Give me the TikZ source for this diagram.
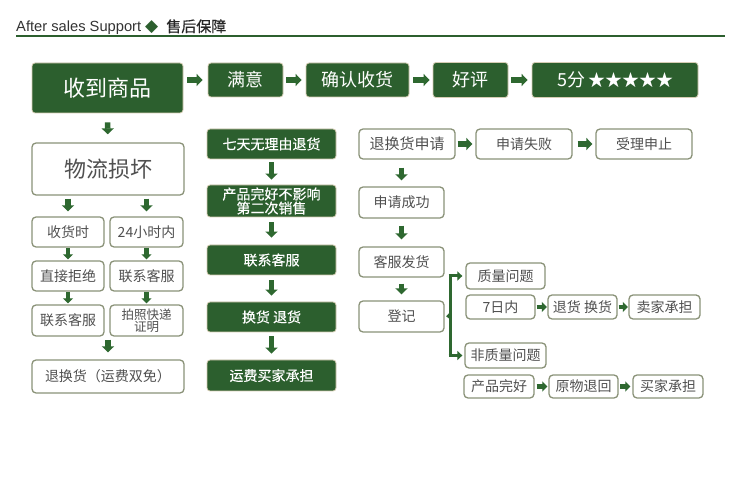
\documentclass[tikz,border=0pt]{standalone}
\usepackage{fontspec}
\setmainfont{Noto Sans CJK SC}
\newfontfamily\medf[FakeBold=0.4]{Noto Sans CJK SC}
\newfontfamily\latinf{Liberation Sans}
\newfontfamily\symf{DejaVu Sans}
\usetikzlibrary{arrows.meta}
\definecolor{dg}{HTML}{2C5F2E}
\definecolor{ag}{HTML}{2E6830}
\definecolor{gb}{HTML}{8A9278}
\definecolor{tg}{HTML}{505050}
\definecolor{lb}{HTML}{D6CDB4}
\tikzset{
  dbox/.style={fill=dg, draw=lb, line width=0.8pt, rounded corners=3pt, text=white, inner sep=0pt, align=center},
  obox/.style={fill=white, draw=gb, line width=1.3pt, rounded corners=4pt, text=tg, inner sep=0pt, align=center},
  arr/.style={draw=ag, line width=5.5pt, -{Triangle[width=12pt,length=6pt]}},
  sarr/.style={draw=ag, line width=4.5pt, -{Triangle[width=10pt,length=5pt]}},
  fs/.style={font=\fontsize{#1}{#1}\selectfont},
}
\begin{document}
\begin{tikzpicture}[x=1pt,y=-1pt]
\useasboundingbox (0,0) rectangle (750,494);
\fill[white] (0,0) rectangle (750,494);
% header
\node[anchor=base west, inner sep=0pt, text=black!80, font=\fontsize{14.7}{14.7}\selectfont] (hdr) at (16,32)
  {{\latinf After sales Support}\hspace{4pt}{\symf\fontsize{17}{17}\selectfont\textcolor{dg}{◆}}\hspace{8pt}\textcolor{black!85}{\medf\fontsize{15}{15}\selectfont 售后保障}};
\coordinate (hl) at (16,36);
\coordinate (hr) at (725,36);
\draw[dg, line width=1.5pt] (hl) -- (hr);
% top row
\node[dbox, fs=22, minimum width=151, minimum height=50] (n1) at (107.5,88) {收到商品};
\node[dbox, fs=18, minimum width=75, minimum height=34] (n2) at (245.5,80) {满意};
\node[dbox, fs=18, minimum width=103, minimum height=34] (n3) at (357.5,80) {确认收货};
\node[dbox, fs=18, minimum width=75, minimum height=35] (n4) at (470.5,80) {好评};
\node[dbox, fs=18, minimum width=166, minimum height=35] (n5) at (615,80) {5分\,{\fontsize{17}{17}\selectfont ★★★★★}};
\draw[arr, shorten <=4pt, shorten >=5pt] (n1.east |- n2.west) -- (n2.west);
\draw[arr, shorten <=3pt, shorten >=4pt] (n2.east) -- (n3.west);
\draw[arr, shorten <=4pt, shorten >=3pt] (n3.east) -- (n4.west);
\draw[arr, shorten <=3pt, shorten >=4pt] (n4.east) -- (n5.west);
% left column
\node[obox, fs=22, minimum width=152, minimum height=52] (a) at (108,169) {物流损坏};
\node[obox, fs=14, minimum width=72, minimum height=30] (b1) at (68,232) {收货时};
\node[obox, fs=14, minimum width=73, minimum height=30] (b2) at (146.5,232) {24小时内};
\node[obox, fs=14, minimum width=72, minimum height=30] (c1) at (68,276) {直接拒绝};
\node[obox, fs=14, minimum width=73, minimum height=30] (c2) at (146.5,276) {联系客服};
\node[obox, fs=14, minimum width=72, minimum height=31] (d1) at (68,320.5) {联系客服};
\node[obox, font=\fontsize{12.5}{12}\selectfont, minimum width=73, minimum height=31] (d2) at (146.5,320.5) {拍照快递\\证明};
\node[obox, fs=14, minimum width=152, minimum height=33] (e) at (108,376.5) {退换货（运费双免）};
\draw[arr, shorten <=9pt, shorten >=8pt] (n1.south) -- (a.north);
\draw[arr, shorten <=3pt, shorten >=5pt] (a.south -| b1.north) -- (b1.north);
\draw[arr, shorten <=3pt, shorten >=5pt] (a.south -| b2.north) -- (b2.north);
\draw[sarr, shorten <=0.5pt, shorten >=1pt] (b1.south) -- (c1.north);
\draw[sarr, shorten <=0.5pt, shorten >=1pt] (b2.south) -- (c2.north);
\draw[sarr, shorten <=0.5pt, shorten >=1pt] (c1.south) -- (d1.north);
\draw[sarr, shorten <=0.5pt, shorten >=1pt] (c2.south) -- (d2.north);
\draw[arr, shorten <=3pt, shorten >=7pt] (e.north |- d1.south) -- (e.north);
% middle column
\node[dbox, fs=14, minimum width=129, minimum height=30] (m1) at (271.5,144) {\medf 七天无理由退货};
\node[dbox, font=\fontsize{14}{14}\selectfont, minimum width=129, minimum height=32] (m2) at (271.5,201) {\medf 产品完好不影响\\\medf 第二次销售};
\node[dbox, fs=14, minimum width=129, minimum height=30] (m3) at (271.5,260) {\medf 联系客服};
\node[dbox, fs=14, minimum width=129, minimum height=30] (m4) at (271.5,317) {\medf 换货 退货};
\node[dbox, fs=14, minimum width=129, minimum height=31] (m5) at (271.5,375.5) {\medf 运费买家承担};
\draw[arr, shorten <=3pt, shorten >=5pt] (m1.south) -- (m2.north);
\draw[arr, shorten <=5pt, shorten >=7pt] (m2.south) -- (m3.north);
\draw[arr, shorten <=5pt, shorten >=6pt] (m3.south) -- (m4.north);
\draw[arr, shorten <=4pt, shorten >=6pt] (m4.south) -- (m5.north);
% right part
\node[obox, fs=15, minimum width=96, minimum height=30] (r1) at (407,144) {退换货申请};
\node[obox, fs=14, minimum width=96, minimum height=30] (r2) at (524,144) {申请失败};
\node[obox, fs=14, minimum width=96, minimum height=30] (r3) at (644,144) {受理申止};
\node[obox, fs=14, minimum width=85, minimum height=31] (r4) at (401.5,202.5) {申请成功};
\node[obox, fs=14, minimum width=85, minimum height=30] (r5) at (401.5,262) {客服发货};
\node[obox, fs=14, minimum width=85, minimum height=31] (r6) at (401.5,316.5) {登记};
\draw[arr, shorten <=2pt, shorten >=3pt] (r1.east) -- (r2.west);
\draw[arr, shorten <=5pt, shorten >=3pt] (r2.east) -- (r3.west);
\draw[arr, shorten <=8pt, shorten >=6pt] (r1.south -| r4.north) -- (r4.north);
\draw[arr, shorten <=7pt, shorten >=7pt] (r4.south) -- (r5.north);
\draw[arr, shorten <=6pt, shorten >=6pt] (r5.south) -- (r6.north);
\node[obox, fs=14, minimum width=79, minimum height=26] (q1) at (505.5,276) {质量问题};
\node[obox, fs=14, minimum width=69, minimum height=24] (q2) at (500.5,307) {7日内};
\node[obox, fs=14, minimum width=69, minimum height=24] (q3) at (582.5,307) {退货 换货};
\node[obox, fs=14, minimum width=71, minimum height=24] (q4) at (664.5,307) {卖家承担};
\node[obox, fs=14, minimum width=81, minimum height=25] (p1) at (505.5,355.5) {非质量问题};
\node[obox, fs=14, minimum width=70, minimum height=23] (p2) at (499,386.5) {产品完好};
\node[obox, fs=14, minimum width=69, minimum height=23] (p3) at (583.5,386.5) {原物退回};
\node[obox, fs=14, minimum width=70, minimum height=23] (p4) at (668,386.5) {买家承担};
\draw[sarr, shorten <=1pt, shorten >=0.5pt] (q2.east) -- (q3.west);
\draw[sarr, shorten <=1pt, shorten >=0.5pt] (q3.east) -- (q4.west);
\draw[sarr, shorten <=2pt, shorten >=1pt] (p2.east) -- (p3.west);
\draw[sarr, shorten <=1.5pt, shorten >=2pt] (p3.east) -- (p4.west);
% bracket
\coordinate (br) at (450,316);
\draw[ag, line width=3pt] (br |- q1.west) -- (br |- p1.west);
\draw[ag, line width=3pt, -{Triangle[width=9pt,length=5pt]}, shorten >=3pt] ([xshift=-1.5pt]br |- q1.west) -- (q1.west);
\draw[ag, line width=3pt, -{Triangle[width=9pt,length=5pt]}, shorten >=2pt] ([xshift=-1.5pt]br |- p1.west) -- (p1.west);
\draw[ag, line width=2pt, -{Triangle[width=7pt,length=4pt]}, shorten >=1.5pt] (br) -- (r6.east);
\end{tikzpicture}
\end{document}
